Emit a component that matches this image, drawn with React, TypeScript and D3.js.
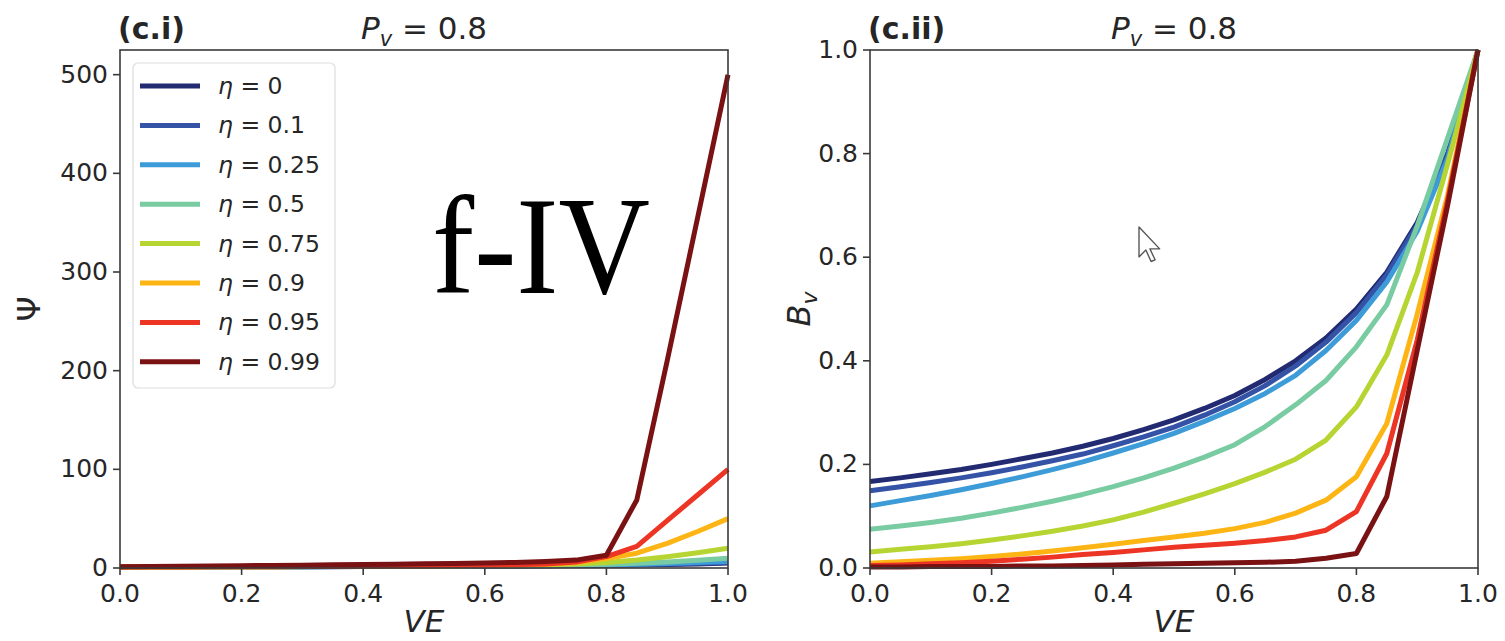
import React from "react";
import * as d3 from "d3";

const VE = [0, 0.05, 0.1, 0.15, 0.2, 0.25, 0.3, 0.35, 0.4, 0.45, 0.5, 0.55, 0.6, 0.65, 0.7, 0.75, 0.8, 0.85, 0.9, 0.95, 1.0];

const etaLabels = ["0", "0.1", "0.25", "0.5", "0.75", "0.9", "0.95", "0.99"];
const etaColors = ["#222a72", "#3553a6", "#3d9bd8", "#79cba2", "#b6d432", "#fdb515", "#ec3524", "#7a1214"];

const psi_eta0 = [1.0, 1.04, 1.09, 1.14, 1.19, 1.25, 1.32, 1.39, 1.47, 1.56, 1.67, 1.79, 1.92, 2.08, 2.27, 2.5, 2.78, 3.13, 3.57, 4.17, 5.0];
const psi_eta01 = [1.0, 1.05, 1.1, 1.15, 1.2, 1.27, 1.34, 1.41, 1.5, 1.6, 1.71, 1.84, 1.99, 2.17, 2.39, 2.66, 3.0, 3.43, 4.0, 4.7, 5.6];
const psi_eta025 = [1.0, 1.05, 1.1, 1.16, 1.22, 1.29, 1.36, 1.44, 1.53, 1.64, 1.76, 1.9, 2.07, 2.27, 2.52, 2.84, 3.27, 3.85, 4.6, 5.5, 6.7];
const psi_eta05 = [1.0, 1.05, 1.1, 1.16, 1.23, 1.3, 1.38, 1.47, 1.57, 1.69, 1.83, 2.0, 2.2, 2.45, 2.77, 3.2, 3.9, 4.9, 6.2, 7.9, 10];
const psi_eta075 = [1.0, 1.05, 1.11, 1.17, 1.24, 1.32, 1.41, 1.51, 1.63, 1.77, 1.94, 2.15, 2.42, 2.77, 3.25, 4.0, 5.5, 8.0, 11.5, 15.5, 20];
const psi_eta09 = [1.0, 1.05, 1.11, 1.18, 1.26, 1.35, 1.45, 1.57, 1.71, 1.88, 2.08, 2.33, 2.65, 3.1, 3.8, 5.2, 9.5, 15, 25, 37, 50];
const psi_eta095 = [1.0, 1.05, 1.12, 1.19, 1.27, 1.36, 1.47, 1.6, 1.75, 1.93, 2.15, 2.43, 2.8, 3.3, 4.1, 6.0, 11.5, 22, 48, 74, 100];
const psi_eta099 = [1.3, 1.5, 1.7, 2.0, 2.3, 2.6, 2.9, 3.2, 3.6, 3.9, 4.3, 4.6, 5.0, 5.6, 6.5, 8.0, 13, 69, 210, 355, 500];

const bv_eta0 = [0.167, 0.174, 0.182, 0.19, 0.2, 0.211, 0.222, 0.235, 0.25, 0.267, 0.286, 0.308, 0.333, 0.364, 0.4, 0.444, 0.5, 0.571, 0.667, 0.8, 1.0];
const bv_eta01 = [0.149, 0.157, 0.165, 0.174, 0.184, 0.195, 0.207, 0.22, 0.236, 0.253, 0.272, 0.295, 0.321, 0.352, 0.39, 0.436, 0.493, 0.566, 0.662, 0.797, 1.0];
const bv_eta025 = [0.12, 0.13, 0.14, 0.151, 0.163, 0.176, 0.19, 0.205, 0.222, 0.24, 0.26, 0.283, 0.308, 0.337, 0.372, 0.42, 0.478, 0.552, 0.65, 0.79, 1.0];
const bv_eta05 = [0.075, 0.081, 0.088, 0.096, 0.106, 0.117, 0.129, 0.142, 0.157, 0.174, 0.193, 0.214, 0.238, 0.273, 0.315, 0.362, 0.427, 0.508, 0.66, 0.83, 1.0];
const bv_eta075 = [0.031, 0.036, 0.041, 0.047, 0.054, 0.062, 0.071, 0.081, 0.093, 0.108, 0.125, 0.143, 0.163, 0.185, 0.21, 0.247, 0.311, 0.411, 0.57, 0.78, 1.0];
const bv_eta09 = [0.009, 0.012, 0.015, 0.018, 0.022, 0.027, 0.033, 0.039, 0.046, 0.053, 0.06, 0.067, 0.076, 0.088, 0.106, 0.131, 0.176, 0.279, 0.49, 0.72, 1.0];
const bv_eta095 = [0.005, 0.006, 0.008, 0.01, 0.013, 0.017, 0.021, 0.026, 0.03, 0.035, 0.04, 0.044, 0.048, 0.053, 0.06, 0.073, 0.109, 0.221, 0.44, 0.71, 1.0];
const bv_eta099 = [0.002, 0.002, 0.003, 0.003, 0.003, 0.004, 0.004, 0.005, 0.006, 0.007, 0.008, 0.009, 0.01, 0.011, 0.013, 0.019, 0.028, 0.138, 0.42, 0.7, 1.0];

const psiSeries = [psi_eta0, psi_eta01, psi_eta025, psi_eta05, psi_eta075, psi_eta09, psi_eta095, psi_eta099];
const bvSeries = [bv_eta0, bv_eta01, bv_eta025, bv_eta05, bv_eta075, bv_eta09, bv_eta095, bv_eta099];

const xTicks = [0, 0.2, 0.4, 0.6, 0.8, 1.0];
const psiTicks = [0, 100, 200, 300, 400, 500];
const bvTicks = [0, 0.2, 0.4, 0.6, 0.8, 1.0];

const FONT = "DejaVu Sans, sans-serif";
const TXT = "#262626";

function Panel({ x0, x1, y0, y1, yDomain, yTicks, yFmt, series, tag, ylabel, legend }: any) {
  const xs = d3.scaleLinear().domain([0, 1]).range([x0, x1]);
  const ys = d3.scaleLinear().domain(yDomain).range([y0, y1]);
  const line = d3
    .line<number>()
    .x((_, i) => xs(VE[i]))
    .y((d) => ys(d));
  const cx = (x0 + x1) / 2;
  return (
    <g>
      <defs>
        <clipPath id={"clip" + tag}>
          <rect x={x0} y={y1 - 4} width={x1 - x0 + 3} height={y0 - y1 + 4} />
        </clipPath>
      </defs>
      <g clipPath={`url(#clip${tag})`}>
        {series.map((s: number[], i: number) => (
          <path key={i} d={line(s) || ""} fill="none" stroke={etaColors[i]} strokeWidth={5} strokeLinejoin="round" />
        ))}
      </g>
      <rect x={x0} y={y1} width={x1 - x0} height={y0 - y1} fill="none" stroke="#3a3a3a" strokeWidth={1.6} />
      {xTicks.map((t) => (
        <g key={"x" + t}>
          <line x1={xs(t)} x2={xs(t)} y1={y0} y2={y0 + 7} stroke="#3a3a3a" strokeWidth={1.6} />
          <text x={xs(t)} y={y0 + 34} textAnchor="middle" fontFamily={FONT} fontSize={25} fill={TXT}>
            {d3.format(".1f")(t)}
          </text>
        </g>
      ))}
      {yTicks.map((t: number) => (
        <g key={"y" + t}>
          <line x1={x0 - 7} x2={x0} y1={ys(t)} y2={ys(t)} stroke="#3a3a3a" strokeWidth={1.6} />
          <text x={x0 - 12} y={ys(t) + 8} textAnchor="end" fontFamily={FONT} fontSize={25} fill={TXT}>
            {yFmt(t)}
          </text>
        </g>
      ))}
      <text x={cx} y={y0 + 64} textAnchor="middle" fontFamily={FONT} fontSize={31} fontStyle="italic" fill={TXT}>
        VE
      </text>
      {ylabel}
      <text x={x0 - 2} y={y1 - 11} fontFamily={FONT} fontSize={30} fontWeight="bold" fill={TXT}>
        {tag}
      </text>
      <text x={cx} y={y1 - 11} textAnchor="middle" fontFamily={FONT} fontSize={31} fill={TXT}>
        <tspan fontStyle="italic">P</tspan>
        <tspan fontStyle="italic" fontSize={21} dy={7}>v</tspan>
        <tspan dy={-7}>{" = 0.8"}</tspan>
      </text>
      {legend}
    </g>
  );
}

function Legend({ x, y }: any) {
  const rowH = 39.4;
  return (
    <g>
      <rect x={x} y={y} width={202} height={325} rx={5} fill="white" fillOpacity={0.85} stroke="#dddddd" strokeWidth={1.2} />
      {etaLabels.map((l, i) => {
        const yy = y + 23 + i * rowH;
        return (
          <g key={l}>
            <line x1={x + 7} x2={x + 67} y1={yy} y2={yy} stroke={etaColors[i]} strokeWidth={5} />
            <text x={x + 85} y={yy + 8} fontFamily={FONT} fontSize={23.5} fill={TXT}>
              <tspan fontStyle="italic">η</tspan>
              <tspan>{" = " + l}</tspan>
            </text>
          </g>
        );
      })}
    </g>
  );
}

export default function App() {
  const W = 1505;
  const H = 641;
  const top = 50;
  const bottom = 568;
  return (
    <svg width={W} height={H} style={{ position: "absolute", left: 0, top: 0, background: "white" }}>
      <rect x={0} y={0} width={W} height={H} fill="white" />
      <Panel
        x0={120}
        x1={728}
        y0={bottom}
        y1={top}
        yDomain={[0, 525]}
        yTicks={psiTicks}
        yFmt={(t: number) => String(t)}
        series={psiSeries}
        tag="(c.i)"
        ylabel={
          <text transform={`translate(40,${(top + bottom) / 2}) rotate(-90)`} textAnchor="middle" fontFamily={FONT} fontSize={32} fill={TXT}>
            Ψ
          </text>
        }
        legend={<Legend x={133} y={63} />}
      />
      <Panel
        x0={870}
        x1={1478}
        y0={bottom}
        y1={top}
        yDomain={[0, 1]}
        yTicks={bvTicks}
        yFmt={d3.format(".1f")}
        series={bvSeries}
        tag="(c.ii)"
        ylabel={
          <text transform={`translate(810,${(top + bottom) / 2}) rotate(-90)`} textAnchor="middle" fontFamily={FONT} fontSize={32} fill={TXT}>
            <tspan fontStyle="italic">B</tspan>
            <tspan fontStyle="italic" fontSize={22} dy={7}>v</tspan>
          </text>
        }
        legend={null}
      />
      <text x={432} y={293} fontFamily="Liberation Serif, Times New Roman, serif" fontSize={140} fill="#000" textLength={218} lengthAdjust="spacingAndGlyphs">
        f-IV
      </text>
      <path
        d="M0,0 L0,26 L6,20 L10.5,30 L14,28.5 L9.5,19 L18,19 Z"
        transform="translate(1139,227) scale(1.15)"
        fill="white"
        stroke="#555"
        strokeWidth={1.2}
        strokeLinejoin="round"
      />
    </svg>
  );
}
